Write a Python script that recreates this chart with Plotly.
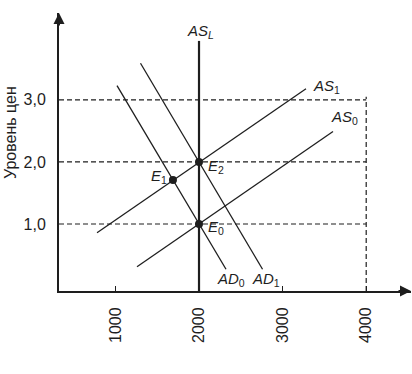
import plotly.graph_objects as go

# ---- data ----
x_ticks = [1000, 2000, 3000, 4000]
y_ticks = [1.0, 2.0, 3.0]
y_ticklabels = ["1,0", "2,0", "3,0"]

ad0_x = [1019, 2323]
ad0_y = [3.23, 0.27]
ad1_x = [1300, 2760]
ad1_y = [3.59, 0.27]
as0_x = [1258, 3603]
as0_y = [0.31, 2.49]
as1_x = [780, 3280]
as1_y = [0.86, 3.18]
asl_x = [2000, 2000]
asl_y = [-0.08, 3.95]

eq_names = ["E0", "E1", "E2"]
eq_x = [2000, 1688, 2000]
eq_y = [1.0, 1.71, 2.0]

price_levels = [1.0, 2.0, 3.0]
full_output = 4000
full_output_top = 3.05

X_RANGE = [325, 4536]
Y_RANGE = [-0.08, 4.40]

W, H = 412, 374
INK = "#1e1e1e"
FONT = "Liberation Sans, Arial, sans-serif"

fig = go.Figure()

# dashed guides
for lvl in price_levels:
    fig.add_trace(go.Scatter(x=[X_RANGE[0], full_output], y=[lvl, lvl], mode="lines",
                             line=dict(color=INK, width=1.2, dash="5px,3px"),
                             hoverinfo="skip", showlegend=False))
fig.add_trace(go.Scatter(x=[full_output, full_output], y=[Y_RANGE[0], full_output_top], mode="lines",
                         line=dict(color=INK, width=1.2, dash="5px,3px"),
                         hoverinfo="skip", showlegend=False))

# curves
for xs, ys, w in [(ad0_x, ad0_y, 1.3), (ad1_x, ad1_y, 1.3), (as0_x, as0_y, 1.3),
                  (as1_x, as1_y, 1.3), (asl_x, asl_y, 2.2)]:
    fig.add_trace(go.Scatter(x=xs, y=ys, mode="lines", line=dict(color=INK, width=w),
                             hoverinfo="skip", showlegend=False))

# equilibrium points
fig.add_trace(go.Scatter(x=eq_x, y=eq_y, mode="markers",
                         marker=dict(color=INK, size=8), hoverinfo="skip", showlegend=False))

ann = []
def label(text, x, y, xanchor="center", size=15):
    ann.append(dict(x=x, y=y, xref="x", yref="y", text=text, showarrow=False,
                    xanchor=xanchor, yanchor="middle",
                    font=dict(family=FONT, size=size, color=INK)))

label("<i>AS</i><sub><i>L</i></sub>", 2012, 4.11)
label("<i>AS</i><sub>1</sub>", 3340, 3.21, "left")
label("<i>AS</i><sub>0</sub>", 3555, 2.71, "left")
label("<i>E</i><sub>1</sub>", 1640, 1.77, "right")
label("<i>E</i><sub>2</sub>", 2084, 1.92, "left")
label("<i>E</i><sub>0</sub>", 2084, 0.95, "left")
label("<i>AD</i><sub>0</sub>", 2383, 0.10)
label("<i>AD</i><sub>1</sub>", 2801, 0.10)

# axis arrows
ann.append(dict(x=X_RANGE[1], y=Y_RANGE[0], xref="x", yref="y", ax=-14, ay=0,
                showarrow=True, arrowhead=2, arrowsize=1.1, arrowwidth=2, arrowcolor=INK, text=""))
ann.append(dict(x=X_RANGE[0], y=Y_RANGE[1], xref="x", yref="y", ax=0, ay=14,
                showarrow=True, arrowhead=2, arrowsize=1.1, arrowwidth=2, arrowcolor=INK, text=""))

# y title
ann.append(dict(x=10 / W, y=(H - 133) / H, xref="paper", yref="paper", text="Уровень цен",
                showarrow=False, textangle=-90, xanchor="center", yanchor="middle",
                font=dict(family=FONT, size=16, color=INK)))

fig.update_layout(
    width=W, height=H, autosize=False,
    margin=dict(l=0, r=0, t=0, b=0),
    paper_bgcolor="white", plot_bgcolor="white",
    annotations=ann,
    xaxis=dict(domain=[59 / W, 411 / W], range=X_RANGE, showgrid=False, zeroline=False,
               showline=True, linecolor=INK, linewidth=2,
               tickmode="array", tickvals=x_ticks, ticktext=[str(v) for v in x_ticks],
               ticks="inside", ticklen=5, tickwidth=1.3, tickcolor=INK, tickangle=-90,
               ticklabelstandoff=8,
               tickfont=dict(family=FONT, size=16, color=INK)),
    yaxis=dict(domain=[(H - 291) / H, (H - 13) / H], range=Y_RANGE, showgrid=False, zeroline=False,
               showline=True, linecolor=INK, linewidth=2,
               tickmode="array", tickvals=y_ticks, ticktext=y_ticklabels,
               ticks="", ticklabelstandoff=8,
               tickfont=dict(family=FONT, size=16, color=INK)),
)

fig.write_html("out.html",
               config={"displayModeBar": False, "staticPlot": True},
               post_script="document.body.style.margin='0';document.body.style.padding='0';")
